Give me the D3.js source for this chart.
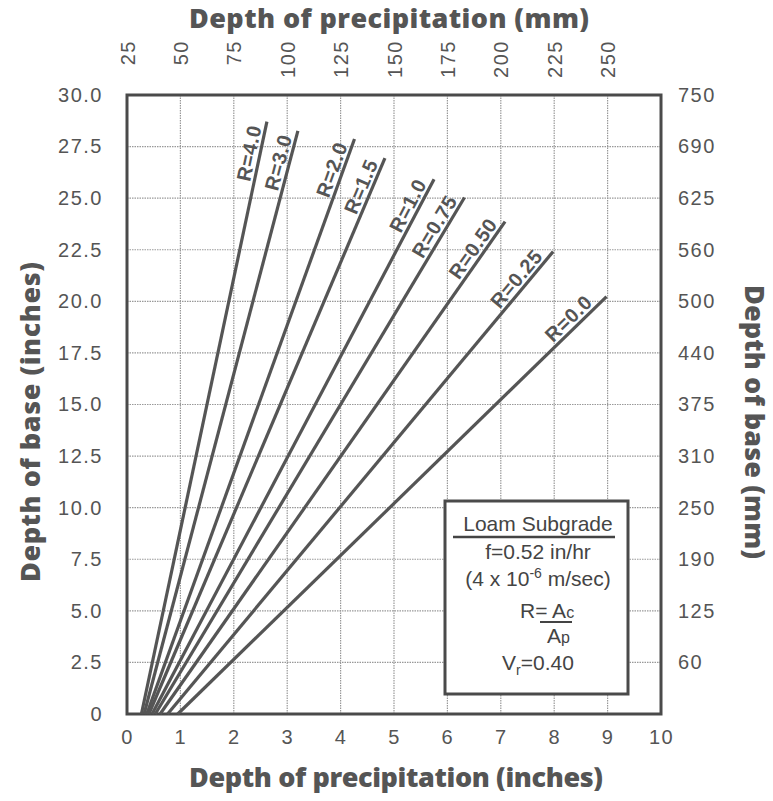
<!DOCTYPE html>
<html>
<head>
<meta charset="utf-8">
<script src="https://cdn.jsdelivr.net/npm/d3@7"></script>
<style>
  body { margin: 0; background: #fff; }
  svg { display: block; }
  .tick-label { font-family: "Liberation Sans", Arial, sans-serif; font-size: 20px; fill: #555; letter-spacing: 1.5px; }
  .axis-title { font-family: "Open Sans", Lato, sans-serif; font-weight: 800; font-size: 27px; fill: #555; }
  .ratio-label { font-family: "Liberation Sans", Arial, sans-serif; font-weight: bold; font-size: 20px; fill: #555; letter-spacing: 0.6px; }
  .legend-text { font-family: "Liberation Sans", Arial, sans-serif; font-size: 21px; fill: #444; }
</style>
</head>
<body>
<svg id="chart" width="773" height="801"></svg>
<script>
// axis ticks (inches) and the metric labels printed beside them
const xTicks = [0, 1, 2, 3, 4, 5, 6, 7, 8, 9, 10];
const yTicks = [0, 2.5, 5, 7.5, 10, 12.5, 15, 17.5, 20, 22.5, 25, 27.5, 30];
const topTickPos = [0, 1, 2, 3, 4, 5, 6, 7, 8, 9];
const topTickLabels = ['25', '50', '75', '100', '125', '150', '175', '200', '225', '250'];
const rightTickPos = [2.5, 5, 7.5, 10, 12.5, 15, 17.5, 20, 22.5, 25, 27.5, 30];
const rightTickLabels = ['60', '125', '190', '250', '310', '375', '440', '500', '560', '625', '690', '750'];

// one straight line per area ratio R: starts on the x axis, ends at (endX, endY)
const ratioLabels = ['R=4.0', 'R=3.0', 'R=2.0', 'R=1.5', 'R=1.0', 'R=0.75', 'R=0.50', 'R=0.25', 'R=0.0'];
const lineStartX = [0.27, 0.32, 0.37, 0.41, 0.47, 0.53, 0.62, 0.76, 0.95];
const lineEndX = [2.62, 3.20, 4.26, 4.83, 5.75, 6.32, 7.08, 7.98, 8.98];
const lineEndY = [28.71, 28.26, 27.87, 26.94, 25.92, 25.03, 23.86, 22.41, 20.23];
const labelBack = [6, 7, 8, 7, 7, 6, 6, 10, 14];

const plot = { left: 127, right: 661, top: 95, bottom: 714 };
const ink = '#555';

const svg = d3.select('#chart');

const x = d3.scaleLinear().domain([0, 10]).range([plot.left, plot.right]);
const y = d3.scaleLinear().domain([0, 30]).range([plot.bottom, plot.top]);

// dotted grid
const grid = svg.append('g').attr('class', 'grid');
grid.selectAll('line.vgrid')
  .data(xTicks.slice(1, -1))
  .join('line')
    .attr('class', 'vgrid')
    .attr('x1', d => x(d)).attr('x2', d => x(d))
    .attr('y1', plot.top).attr('y2', plot.bottom)
    .style('stroke', '#999')
    .style('stroke-width', 1.2)
    .style('stroke-dasharray', '1.5,1');
grid.selectAll('line.hgrid')
  .data(yTicks.slice(1, -1))
  .join('line')
    .attr('class', 'hgrid')
    .attr('x1', plot.left).attr('x2', plot.right)
    .attr('y1', d => y(d)).attr('y2', d => y(d))
    .style('stroke', '#999')
    .style('stroke-width', 1.2)
    .style('stroke-dasharray', '1.5,1');

// axes: only the labels are kept, the frame is drawn separately
function styleAxis(g) {
  g.select('.domain').remove();
  g.selectAll('.tick line').remove();
  g.selectAll('.tick text').attr('class', 'tick-label').attr('fill', null);
  g.attr('font-family', null).attr('font-size', null);
}

svg.append('g')
  .attr('transform', `translate(${plot.left},0)`)
  .call(d3.axisLeft(y).tickValues(yTicks).tickSize(0).tickPadding(24)
    .tickFormat(d => (d === 0 ? '0' : d3.format('.1f')(d))))
  .call(styleAxis);

svg.append('g')
  .attr('transform', `translate(0,${plot.bottom})`)
  .call(d3.axisBottom(x).tickValues(xTicks).tickSize(0).tickPadding(16).tickFormat(d3.format('d')))
  .call(styleAxis);

svg.append('g')
  .attr('transform', `translate(${plot.right},0)`)
  .call(d3.axisRight(y).tickValues(rightTickPos).tickSize(0).tickPadding(17)
    .tickFormat((d, i) => rightTickLabels[i]))
  .call(styleAxis);

const topAxis = svg.append('g')
  .attr('transform', `translate(0,${plot.top})`)
  .call(d3.axisTop(x).tickValues(topTickPos).tickSize(0)
    .tickFormat((d, i) => topTickLabels[i]))
  .call(styleAxis);

// top labels are turned to read upward, their ends lined up
topAxis.selectAll('.tick text')
  .attr('y', 0)
  .attr('x', 0)
  .attr('dy', '0.35em')
  .attr('text-anchor', 'end')
  .attr('transform', 'translate(0,-55) rotate(-90)');

// frame
svg.append('rect')
  .attr('x', plot.left)
  .attr('y', plot.top)
  .attr('width', plot.right - plot.left)
  .attr('height', plot.bottom - plot.top)
  .style('fill', 'none')
  .style('stroke', '#4a4a4a')
  .style('stroke-width', 3);

// ratio lines
const lines = ratioLabels.map((label, i) => ({
  label,
  back: labelBack[i],
  x1: x(lineStartX[i]), y1: y(0),
  x2: x(lineEndX[i]), y2: y(lineEndY[i]),
}));

svg.append('g').selectAll('line')
  .data(lines)
  .join('line')
    .attr('x1', d => d.x1).attr('y1', d => d.y1)
    .attr('x2', d => d.x2).attr('y2', d => d.y2)
    .style('stroke', ink)
    .style('stroke-width', 3.2)
    .style('stroke-linecap', 'butt');

// labels sit on the line, ending just short of its top
svg.append('g').selectAll('text')
  .data(lines)
  .join('text')
    .attr('class', 'ratio-label')
    .attr('text-anchor', 'end')
    .attr('transform', d => {
      const dx = d.x2 - d.x1;
      const dy = d.y2 - d.y1;
      const len = Math.hypot(dx, dy);
      const px = d.x2 - dx / len * d.back;
      const py = d.y2 - dy / len * d.back;
      const angle = Math.atan2(dy, dx) * 180 / Math.PI;
      return `translate(${px},${py}) rotate(${angle})`;
    })
    .attr('dy', -4)
    .text(d => d.label);

// axis titles
svg.append('text')
  .attr('class', 'axis-title')
  .attr('x', 389).attr('y', 28)
  .attr('text-anchor', 'middle')
  .attr('textLength', 400)
  .text('Depth of precipitation (mm)');

svg.append('text')
  .attr('class', 'axis-title')
  .attr('x', 396).attr('y', 787)
  .attr('text-anchor', 'middle')
  .attr('textLength', 414)
  .text('Depth of precipitation (inches)');

svg.append('text')
  .attr('class', 'axis-title')
  .attr('text-anchor', 'middle')
  .attr('textLength', 320)
  .attr('transform', 'translate(40,422) rotate(-90)')
  .text('Depth of base (inches)');

svg.append('text')
  .attr('class', 'axis-title')
  .attr('text-anchor', 'middle')
  .attr('textLength', 274)
  .attr('transform', 'translate(745,422) rotate(90)')
  .text('Depth of base (mm)');

// legend box
const box = { x: 445, y: 501, w: 183, h: 193 };
const legend = svg.append('g');
legend.append('rect')
  .attr('x', box.x).attr('y', box.y)
  .attr('width', box.w).attr('height', box.h)
  .style('fill', '#fff')
  .style('stroke', '#4a4a4a')
  .style('stroke-width', 3);

const cx = 538;
legend.append('text').attr('class', 'legend-text')
  .attr('x', cx).attr('y', 531).attr('text-anchor', 'middle')
  .text('Loam Subgrade');
legend.append('line')
  .attr('x1', 453).attr('x2', 615).attr('y1', 537).attr('y2', 537)
  .style('stroke', '#444').style('stroke-width', 2.5);

legend.append('text').attr('class', 'legend-text')
  .attr('x', cx).attr('y', 559).attr('text-anchor', 'middle')
  .text('f=0.52 in/hr');

const sci = legend.append('text').attr('class', 'legend-text')
  .attr('x', cx).attr('y', 586).attr('text-anchor', 'middle');
sci.append('tspan').text('(4 x 10');
sci.append('tspan').attr('dy', -8).style('font-size', '14px').text('-6');
sci.append('tspan').attr('dy', 8).text(' m/sec)');

const rEq = legend.append('text').attr('class', 'legend-text')
  .attr('x', 520).attr('y', 618);
rEq.append('tspan').text('R= A');
rEq.append('tspan').style('font-size', '16px').text('c');
legend.append('line')
  .attr('x1', 540).attr('x2', 572).attr('y1', 622).attr('y2', 622)
  .style('stroke', '#444').style('stroke-width', 2);

const ap = legend.append('text').attr('class', 'legend-text')
  .attr('x', 547).attr('y', 643);
ap.append('tspan').text('A');
ap.append('tspan').style('font-size', '16px').text('p');

const vr = legend.append('text').attr('class', 'legend-text')
  .attr('x', cx).attr('y', 670).attr('text-anchor', 'middle');
vr.append('tspan').text('V');
vr.append('tspan').attr('dy', 5).style('font-size', '14px').text('r');
vr.append('tspan').attr('dy', -5).text('=0.40');
</script>
</body>
</html>
